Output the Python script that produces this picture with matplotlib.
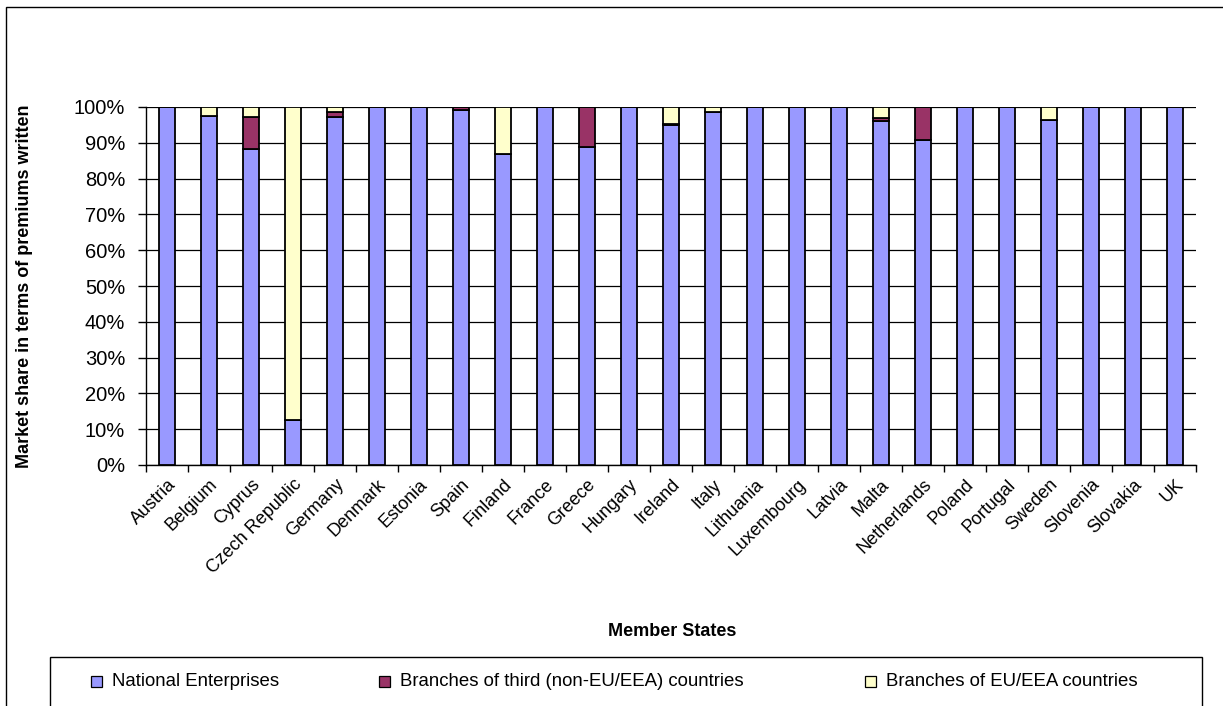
import matplotlib
matplotlib.use("Agg")
import matplotlib.pyplot as plt
from matplotlib.patches import Rectangle
import numpy as np

plt.rcParams['font.family'] = ['Liberation Sans', 'DejaVu Sans']

countries = ["Austria", "Belgium", "Cyprus", "Czech Republic", "Germany", "Denmark",
             "Estonia", "Spain", "Finland", "France", "Greece", "Hungary", "Ireland",
             "Italy", "Lithuania", "Luxembourg", "Latvia", "Malta", "Netherlands",
             "Poland", "Portugal", "Sweden", "Slovenia", "Slovakia", "UK"]
national = [100, 97.6, 88.4, 12.6, 97.1, 100, 100, 99.1, 87.0, 100, 88.8, 100, 95.0,
            98.6, 100, 100, 100, 96.1, 90.7, 100, 100, 96.4, 100, 100, 100]
third_country = [0, 0, 8.7, 0, 1.4, 0, 0, 0.9, 0, 0, 11.2, 0, 0.2,
                 0, 0, 0, 0, 0.7, 9.3, 0, 0, 0, 0, 0, 0]
eu_eea = [0, 2.4, 2.9, 87.4, 1.5, 0, 0, 0, 13.0, 0, 0, 0, 4.8,
          1.4, 0, 0, 0, 3.2, 0, 0, 0, 3.6, 0, 0, 0]
series_names = ["National Enterprises", "Branches of third (non-EU/EEA) countries",
                "Branches of EU/EEA countries"]
colors = ["#9999FF", "#993366", "#FFFFCC"]

W, H = 1223, 706
fig = plt.figure(figsize=(W / 100, H / 100), dpi=100)

# outer chart frame
fig.patches.append(Rectangle((6 / W, -0.05), 1.2, 1 - 7 / H + 0.05,
                             transform=fig.transFigure, fill=False,
                             edgecolor="black", linewidth=1.0))

ax = fig.add_axes([146 / W, 1 - 465 / H, 1050 / W, 358 / H])
x = np.arange(len(countries))
bottom = np.zeros(len(countries))
for vals, c in zip([national, third_country, eu_eea], colors):
    vals = np.array(vals, dtype=float)
    ax.bar(x, vals, width=0.38, bottom=bottom, color=c, edgecolor="black",
           linewidth=1.3, zorder=3)
    bottom += vals

ax.set_xlim(-0.5, len(countries) - 0.5)
ax.set_ylim(0, 100)
ax.set_yticks(np.arange(0, 101, 10))
ax.set_yticklabels([f"{v}%" for v in range(0, 101, 10)], fontsize=14.5)
ax.yaxis.grid(True, color="black", linewidth=0.9, zorder=0)
ax.set_xticks(x)
ax.set_xticklabels(countries, rotation=45, ha="right", rotation_mode="anchor",
                   fontsize=13)
ax.set_xticks(np.arange(-0.5, len(countries), 1), minor=True)
ax.tick_params(axis="x", which="major", length=0, pad=8)
ax.tick_params(axis="x", which="minor", length=5, width=1, color="black")
ax.tick_params(axis="y", length=6, width=1, pad=9)
for s in ["top", "right"]:
    ax.spines[s].set_visible(False)
ax.spines["left"].set_linewidth(1.0)
ax.spines["bottom"].set_linewidth(1.0)

ax.set_ylabel("Market share in terms of premiums written", fontsize=13,
              fontweight="bold")
ax.yaxis.set_label_coords((33 - 146) / 1050, 0.5)
fig.text(672 / W, 1 - 632 / H, "Member States", ha="center", va="center",
         fontsize=13, fontweight="bold")

# legend box
fig.patches.append(Rectangle((50 / W, -0.05), 1152 / W, (706 - 657) / H + 0.05,
                             transform=fig.transFigure, fill=False,
                             edgecolor="black", linewidth=1.0))
marker_x = [91, 379, 865]
for mx, name, c in zip(marker_x, series_names, colors):
    fig.patches.append(Rectangle((mx / W, 1 - 687 / H), 11 / W, 11 / H,
                                 transform=fig.transFigure, facecolor=c,
                                 edgecolor="black", linewidth=0.9))
    fig.text((mx + 21) / W, 1 - 681 / H, name, ha="left", va="center",
             fontsize=13.4)

fig.savefig("out.png", dpi=100)
